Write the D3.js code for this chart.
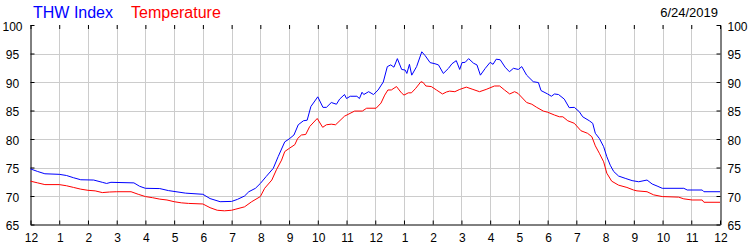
<!DOCTYPE html>
<html>
<head>
<meta charset="utf-8">
<script src="https://cdn.jsdelivr.net/npm/d3@7/dist/d3.min.js"></script>
<style>
  html, body { margin: 0; padding: 0; background: #ffffff; }
  svg { display: block; }
  text { font-family: "Liberation Sans", Arial, sans-serif; }
</style>
</head>
<body>
<svg id="chart" width="750" height="250"></svg>
<script>
// ---- Data ----
const chartDate = "6/24/2019";
const seriesNames = ["THW Index", "Temperature"];
const hourTickValues = d3.range(0, 25);
const hourTickLabels = ["12","1","2","3","4","5","6","7","8","9","10","11",
                        "12","1","2","3","4","5","6","7","8","9","10","11","12"];
const yTickValues = [65, 70, 75, 80, 85, 90, 95, 100];

const thwHours = [0,0.25,0.5,1.0,1.25,1.5,1.75,2.2,2.5,2.65,2.8,3.6,3.8,4.0,4.5,4.8,5.4,6.0,6.25,6.6,7.0,7.2,7.45,7.6,7.83,
  8.0,8.2,8.45,8.62,8.85,9.0,9.17,9.32,9.5,9.63,9.76,10.0,10.18,10.3,10.47,10.65,10.76,10.93,11.0,11.13,11.36,11.45,11.54,11.6,11.77,11.94,
  12.1,12.28,12.42,12.54,12.65,12.77,12.92,13.04,13.1,13.19,13.27,13.44,13.62,13.74,13.91,14.08,14.2,14.37,14.55,14.67,14.82,14.94,
  15.02,15.13,15.25,15.42,15.54,15.66,15.83,16.0,16.1,16.21,16.35,16.52,16.67,16.81,16.98,17.1,17.27,17.5,17.68,17.77,
  18.0,18.13,18.24,18.38,18.58,18.75,18.93,19.1,19.22,19.45,19.57,19.66,19.8,19.95,20.06,20.18,20.3,20.47,20.7,20.94,21.17,
  21.46,21.64,21.81,21.99,22.74,22.86,23.38,23.44,24];
const thwIndex = [74.75,74.3,73.9,73.8,73.6,73.2,72.85,72.8,72.4,72.2,72.4,72.3,71.7,71.35,71.3,70.95,70.5,70.3,69.55,69.0,69.05,69.4,70.0,70.75,71.35,
  72.2,73.4,74.85,76.9,79.5,80.0,80.7,82.5,83.2,83.3,85.7,87.4,85.55,85.55,86.4,86.1,87.0,87.8,87.1,87.5,87.5,87.1,88.2,87.8,88.3,87.8,
  88.6,90.0,92.7,93.0,92.6,94.1,92.2,92.1,91.5,93.1,91.2,92.7,95.3,94.6,93.4,93.2,93.0,91.5,92.4,93.2,93.75,92.2,
  93.4,93.45,94.1,93.3,93.0,91.2,92.4,93.45,93.1,94.0,93.9,92.6,91.8,92.4,92.2,92.7,91.2,90.05,89.9,88.5,
  87.9,87.5,87.9,87.8,87.0,85.5,85.55,84.8,83.9,83.2,82.75,81.0,80.1,78.65,76.9,75.4,74.3,73.5,73.1,72.7,72.5,
  72.8,72.1,71.75,71.35,71.35,71.05,71.05,70.75,70.75];

const tempHours = [0,0.25,0.5,1.0,1.25,1.5,1.75,2.0,2.25,2.5,2.75,3.0,3.5,3.75,4.0,4.25,4.5,4.75,5.0,5.25,5.5,6.0,6.25,6.5,6.75,7.0,7.15,7.45,7.7,
  8.0,8.15,8.4,8.56,8.74,8.85,9.02,9.2,9.3,9.43,9.58,9.72,9.98,10.17,10.3,10.47,10.62,10.93,11.28,11.55,11.7,12.03,
  12.2,12.33,12.44,12.56,12.74,12.91,13.0,13.15,13.26,13.41,13.59,13.67,13.76,13.95,14.13,14.34,14.48,14.59,14.77,14.94,
  15.17,15.4,15.63,15.86,16.15,16.33,16.5,16.68,16.85,16.97,17.27,17.45,17.62,17.85,18.0,18.24,18.41,18.53,18.7,18.93,
  19.16,19.39,19.54,19.66,19.8,19.95,20.06,20.23,20.47,20.76,20.99,21.11,21.46,21.69,21.99,22.56,22.74,23.03,23.38,23.44,24];
const temperature = [72.6,72.3,72.0,72.0,71.8,71.5,71.2,71.0,70.9,70.6,70.7,70.75,70.75,70.3,69.9,69.7,69.45,69.3,69.0,68.8,68.7,68.6,67.95,67.5,67.4,67.5,67.7,68.1,69.0,
  69.9,71.35,72.8,74.6,76.3,77.8,78.4,79.0,80.1,80.7,80.8,82.2,83.6,82.05,82.5,82.6,82.5,84.0,84.9,84.9,85.4,85.4,
  86.3,87.7,88.6,88.6,89.2,88.1,87.7,88.1,88.1,88.9,90.05,89.9,89.3,89.2,88.6,87.9,88.25,88.4,88.3,88.7,
  89.1,88.7,88.3,88.7,89.3,89.3,88.6,87.9,88.3,88.0,86.4,86.1,85.55,84.9,84.7,84.2,83.9,83.9,83.2,82.75,
  81.45,81.0,80.4,78.8,77.5,76.0,74.0,72.6,71.9,71.5,71.05,70.9,70.75,70.2,69.9,69.8,69.5,69.3,69.3,68.9,68.9];

// ---- Chart ----
const svg = d3.select("#chart");
const x = d3.scaleLinear().domain([0, 24]).range([30.5, 720]);
const y = d3.scaleLinear().domain([65, 100]).range([224.5, 25]);

// gridlines
const grid = svg.append("g").attr("stroke", "#cccccc").attr("stroke-width", 1);
grid.selectAll("line.v").data(hourTickValues.filter(h => h > 0 && h < 24)).enter()
  .append("line").attr("class", "v")
  .attr("x1", d => Math.round(x(d)) + 0.5).attr("x2", d => Math.round(x(d)) + 0.5)
  .attr("y1", y(100)).attr("y2", y(65));
grid.selectAll("line.h").data(yTickValues.filter(v => v > 65 && v < 100)).enter()
  .append("line").attr("class", "h")
  .attr("x1", x(0)).attr("x2", x(24))
  .attr("y1", d => Math.round(y(d)) + 0.5).attr("y2", d => Math.round(y(d)) + 0.5);

// axes (lines + inward ticks)
function styleAxis(g) {
  g.selectAll("path.domain").attr("stroke", "#000");
  g.selectAll(".tick line").attr("stroke", "#000");
  g.selectAll(".tick text").remove();
}
svg.append("g").attr("transform", "translate(0,224.5)")
  .call(d3.axisBottom(x).tickValues(hourTickValues).tickSize(-4).tickSizeOuter(0).tickFormat(""))
  .call(styleAxis);
svg.append("g").attr("transform", "translate(0,25)")
  .call(d3.axisTop(x).tickValues(hourTickValues).tickSize(-4).tickSizeOuter(0).tickFormat(""))
  .call(g => g.select("path.domain").remove())
  .call(styleAxis);
svg.append("g").attr("transform", "translate(30.5,0)")
  .call(d3.axisLeft(y).tickValues(yTickValues).tickSize(-4).tickSizeOuter(0).tickFormat(""))
  .call(styleAxis);
svg.append("g").attr("transform", "translate(720.5,0)")
  .call(d3.axisRight(y).tickValues(yTickValues).tickSize(-4).tickSizeOuter(0).tickFormat(""))
  .call(styleAxis);

// tick labels
svg.append("g").selectAll("text").data(yTickValues).enter().append("text")
  .attr("x", 12.5).attr("y", d => y(d) + 5.5)
  .attr("text-anchor", "middle").attr("font-size", 12).attr("fill", "#000")
  .text(d => d);
svg.append("g").selectAll("text").data(yTickValues).enter().append("text")
  .attr("x", 727.5).attr("y", d => y(d) + 5.5)
  .attr("text-anchor", "start").attr("font-size", 12).attr("fill", "#000")
  .text(d => d);
svg.append("g").selectAll("text").data(hourTickValues).enter().append("text")
  .attr("x", d => x(d) + 1).attr("y", 241.5)
  .attr("text-anchor", "middle").attr("font-size", 12).attr("fill", "#000")
  .text((d, i) => hourTickLabels[i]);

// lines
const line = d3.line().x(d => x(d[0])).y(d => y(d[1]));
svg.append("path")
  .datum(tempHours.map((h, i) => [h, temperature[i]]))
  .attr("fill", "none").attr("stroke", "#ff0000").attr("stroke-width", 1)
  .attr("d", line);
svg.append("path")
  .datum(thwHours.map((h, i) => [h, thwIndex[i]]))
  .attr("fill", "none").attr("stroke", "#0000ff").attr("stroke-width", 1)
  .attr("d", line);

// legend & date
svg.append("text").attr("x", 33).attr("y", 17.5).attr("font-size", 16)
  .attr("fill", "#0000ff").text(seriesNames[0]);
svg.append("text").attr("x", 131).attr("y", 17.5).attr("font-size", 16)
  .attr("fill", "#ff0000").text(seriesNames[1]);
svg.append("text").attr("x", 718).attr("y", 16.5).attr("font-size", 13)
  .attr("text-anchor", "end").attr("fill", "#000").text(chartDate);
</script>
</body>
</html>
